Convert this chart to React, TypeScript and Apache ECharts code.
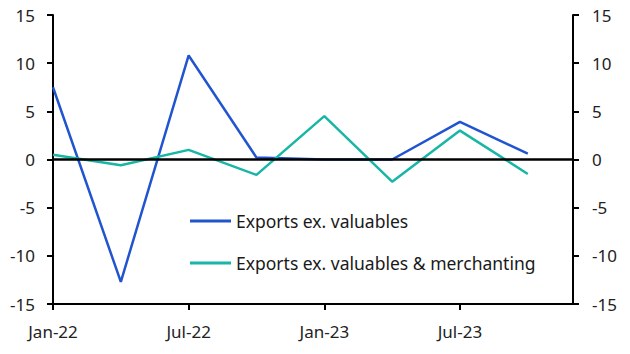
import React, { useEffect, useRef } from "react";
import * as echarts from "echarts";

const months: string[] = [];
const monthNames = ["Jan", "Feb", "Mar", "Apr", "May", "Jun", "Jul", "Aug", "Sep", "Oct", "Nov", "Dec"];
for (const yr of ["22", "23"]) for (const m of monthNames) months.push(`${m}-${yr}`);

const pointMonths = ["Jan-22", "Apr-22", "Jul-22", "Oct-22", "Jan-23", "Apr-23", "Jul-23", "Oct-23"];
const exValuables = [7.5, -12.7, 10.8, 0.2, 0.0, 0.0, 3.9, 0.6];
const exValuablesMerch = [0.5, -0.6, 1.0, -1.6, 4.5, -2.3, 3.0, -1.5];
const tickLabels = ["Jan-22", "Jul-22", "Jan-23", "Jul-23"];

const FONT = "'Noto Sans', sans-serif";

export default function App() {
  const ref = useRef<HTMLDivElement>(null);
  useEffect(() => {
    if (!ref.current) return;
    const chart = echarts.init(ref.current, undefined, { renderer: "svg" });
    const toData = (vals: number[]) => pointMonths.map((m, i) => [m, vals[i]]);
    const yAxisBase = {
      type: "value",
      min: -15,
      max: 15,
      interval: 5,
      splitLine: { show: false },
      axisLine: { show: true, lineStyle: { color: "#000", width: 2 } },
      axisTick: { show: true, length: 6, lineStyle: { color: "#000", width: 2 } },
      axisLabel: { color: "#222", fontSize: 17, fontFamily: FONT },
    };
    chart.setOption({
      animation: false,
      grid: { left: 53, right: 57, top: 15, bottom: 50 },
      legend: {
        orient: "vertical",
        left: 185,
        top: 207,
        itemWidth: 41,
        itemHeight: 3,
        itemGap: 24,
        icon: "rect",
        textStyle: { color: "#1a1a1a", fontSize: 17.5, fontFamily: FONT },
        data: ["Exports ex. valuables", "Exports ex. valuables & merchanting"],
      },
      xAxis: {
        type: "category",
        data: months,
        boundaryGap: false,
        axisLine: { onZero: false, lineStyle: { color: "#000", width: 2 } },
        axisTick: {
          show: true,
          length: 6,
          lineStyle: { color: "#000", width: 2 },
          interval: (i: number, v: string) => tickLabels.includes(v),
        },
        axisLabel: {
          color: "#222",
          fontSize: 17,
          fontFamily: FONT,
          margin: 19,
          interval: (i: number, v: string) => tickLabels.includes(v),
        },
        splitLine: { show: false },
      },
      yAxis: [
        { ...yAxisBase, position: "left", axisLabel: { ...yAxisBase.axisLabel, margin: 18 } },
        { ...yAxisBase, position: "right", axisLabel: { ...yAxisBase.axisLabel, margin: 19 } },
      ],
      series: [
        {
          type: "line",
          name: "zero",
          data: [],
          z: 1,
          silent: true,
          markLine: {
            silent: true,
            symbol: "none",
            label: { show: false },
            lineStyle: { color: "#000", width: 2.5, type: "solid" },
            data: [{ yAxis: 0 }],
          },
        },
        {
          type: "line",
          name: "Exports ex. valuables",
          data: toData(exValuables),
          z: 3,
          symbol: "none",
          lineStyle: { color: "#2155d0", width: 2.5 },
          itemStyle: { color: "#2155d0" },
        },
        {
          type: "line",
          name: "Exports ex. valuables & merchanting",
          data: toData(exValuablesMerch),
          z: 3,
          symbol: "none",
          lineStyle: { color: "#17b6a5", width: 2.5 },
          itemStyle: { color: "#17b6a5" },
        },
      ],
    });
    return () => chart.dispose();
  }, []);
  return <div ref={ref} style={{ width: 630, height: 354, position: "absolute", left: 0, top: 0 }} />;
}
